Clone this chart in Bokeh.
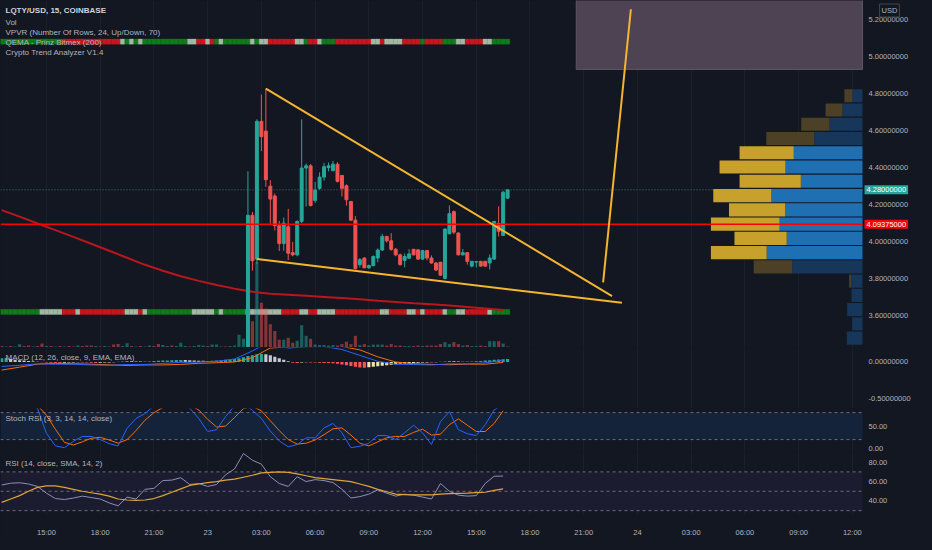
import pandas as pd
from bokeh.plotting import figure
from bokeh.models import Range1d, FixedTicker, PrintfTickFormatter, Label, BoxAnnotation, Grid
from bokeh.layouts import column
from bokeh.embed import file_html
from bokeh.resources import INLINE

# ---------------- data ----------------
first_bar = "2023-03-22 12:30"          # first 15-min bar in view
candle_first = "2023-03-23 02:15"       # first candle visible in the price range

cand_open = [3.350, 4.142, 3.905, 4.651, 4.598, 4.300, 4.247, 4.086, 3.989, 4.080,
             3.940, 3.928, 4.109, 4.398, 4.410, 4.223, 4.288, 4.349, 4.400, 4.384,
             4.419, 4.358, 4.302, 4.217, 4.116, 3.875, 3.911, 3.858, 3.870, 3.911,
             3.954, 4.028, 4.004, 3.958, 3.928, 3.898, 3.910, 3.958, 3.955, 3.905,
             3.951, 3.911, 3.884, 3.888, 3.800, 4.042, 4.162, 4.046, 3.928, 3.940,
             3.867, 3.889, 3.893, 3.893, 3.884, 3.905, 4.098, 4.033, 4.235]
cand_high = [4.380, 4.160, 4.662, 4.796, 4.828, 4.332, 4.260, 4.112, 4.130, 4.177,
             3.998, 4.115, 4.662, 4.423, 4.420, 4.323, 4.375, 4.426, 4.428, 4.437,
             4.430, 4.360, 4.310, 4.220, 4.138, 3.910, 3.915, 3.875, 3.925, 3.963,
             4.042, 4.030, 4.046, 3.965, 3.935, 3.935, 3.958, 3.960, 3.958, 3.955,
             3.955, 3.925, 3.890, 3.890, 4.070, 4.196, 4.168, 4.050, 3.960, 3.940,
             3.895, 3.895, 3.895, 3.895, 3.930, 4.112, 4.191, 4.275, 4.283]
cand_low = [3.330, 3.842, 3.880, 4.490, 4.296, 4.095, 4.060, 3.949, 3.950, 3.900,
            3.920, 3.920, 4.100, 4.190, 4.190, 4.210, 4.280, 4.330, 4.380, 4.380,
            4.320, 4.244, 4.195, 4.110, 3.849, 3.860, 3.855, 3.852, 3.865, 3.888,
            3.950, 3.995, 3.950, 3.920, 3.870, 3.860, 3.905, 3.925, 3.900, 3.900,
            3.898, 3.880, 3.840, 3.814, 3.795, 4.040, 4.040, 3.925, 3.925, 3.875,
            3.860, 3.860, 3.865, 3.865, 3.849, 3.900, 4.028, 4.030, 4.230]
cand_close = [4.142, 3.896, 4.651, 4.568, 4.335, 4.230, 4.086, 3.989, 4.100, 3.937,
              3.928, 4.109, 4.398, 4.410, 4.195, 4.279, 4.349, 4.405, 4.410, 4.419,
              4.326, 4.288, 4.226, 4.116, 3.853, 3.902, 3.858, 3.870, 3.919, 3.954,
              4.028, 4.004, 3.958, 3.928, 3.875, 3.919, 3.933, 3.928, 3.905, 3.951,
              3.911, 3.884, 3.846, 3.818, 4.068, 4.151, 4.051, 3.928, 3.940, 3.893,
              3.893, 3.891, 3.867, 3.867, 3.911, 4.109, 4.056, 4.267, 4.280]

volumes = [15, 10, 15, 10, 33, 15, 20, 10, 15, 40,
           15, 15, 10, 15, 10, 15, 10, 20, 15, 20,
           20, 15, 10, 15, 10, 30, 35, 15, 45, 15,
           10, 15, 10, 20, 15, 35, 25, 15, 20, 15,
           50, 15, 10, 15, 25, 20, 15, 30, 30, 10,
           10, 15, 20, 130, 90, 450, 270, 880, 460, 400,
           240, 170, 80, 80, 100, 50, 70, 230, 120, 90,
           30, 25, 25, 20, 25, 20, 35, 60, 35, 120,
           25, 35, 20, 30, 30, 30, 20, 35, 20, 20,
           15, 15, 15, 20, 15, 20, 20, 20, 35, 55,
           35, 55, 35, 20, 25, 15, 15, 20, 15, 65,
           65, 65, 40, 10]
early_vol_dir = "duduuddudd" "udududdudd" "dududdduud" "uduudduudu" "uuduuuduuu" "duuuu"

ema200 = [4.170, 4.135, 4.098, 4.062, 4.025, 3.988, 3.950, 3.912, 3.874, 3.842,
          3.812, 3.787, 3.765, 3.745, 3.728, 3.718, 3.712, 3.706, 3.700, 3.694,
          3.688, 3.680, 3.673, 3.666, 3.660, 3.654, 3.646, 3.638, 3.630]   # hourly

macd_hist = [0.050, 0.055, 0.040, 0.030, 0.025, 0.020, 0.015, 0.008, 0.004, -0.004,
             -0.008, -0.010, -0.012, -0.012, -0.010, -0.008, -0.006, -0.004, -0.006, -0.008,
             -0.010, -0.012, -0.010, -0.008, -0.006, -0.004, 0.004, 0.008, 0.012, 0.010,
             0.008, 0.006, 0.005, 0.008, 0.012, 0.016, 0.020, 0.022, 0.025, 0.027,
             0.028, 0.026, 0.023, 0.020, 0.018, 0.016, 0.015, 0.017, 0.020, 0.025,
             0.030, 0.035, 0.040, 0.050, 0.065, 0.080, 0.090, 0.105, 0.110, 0.105,
             0.090, 0.070, 0.050, 0.030, 0.010, -0.010, -0.012, -0.008, -0.005, -0.006,
             -0.008, -0.010, -0.012, -0.015, -0.018, -0.025, -0.035, -0.045, -0.055, -0.065,
             -0.075, -0.078, -0.072, -0.065, -0.058, -0.050, -0.043, -0.036, -0.030, -0.025,
             -0.020, -0.016, -0.012, -0.010, -0.008, -0.006, -0.007, -0.005, 0.004, 0.008,
             0.012, 0.010, 0.007, 0.005, 0.004, 0.006, 0.010, 0.015, 0.020, 0.025,
             0.030, 0.035, 0.038, 0.040]
macd_line = [-0.060, -0.045, -0.025, -0.030, -0.030, -0.040, -0.045, -0.035, -0.035, -0.020,
             -0.005, 0.000, 0.010, 0.040, 0.150, 0.280, 0.190, 0.205, 0.210, 0.170,
             0.090, 0.010, -0.030, -0.035, -0.040, -0.025, -0.025, -0.012, 0.025]      # hourly
signal_line = [-0.110, -0.070, -0.029, -0.018, -0.024, -0.030, -0.039, -0.047, -0.040, -0.040,
               -0.033, -0.018, -0.010, 0.000, 0.060, 0.190, 0.205, 0.210, 0.220, 0.210,
               0.165, 0.070, 0.000, -0.023, -0.033, -0.037, -0.029, -0.030, -0.005]    # hourly

stoch_k = [100, 100, 100, 100, 89, 34, 6, 2, 16, 27, 27, 20, 11, 6, 45, 67, 78, 95, 100, 100,
           100, 90, 67, 38, 42, 71, 95, 100, 85, 67, 39, 17, 4, 9, 24, 24, 46, 56, 35, 2,
           5, 12, 29, 29, 20, 35, 52, 35, 9, 60, 82, 42, 33, 29, 53, 86, 98]          # every 30 min
stoch_d = [100, 100, 100, 100, 96, 74, 43, 14, 8, 15, 23, 25, 19, 12, 20, 40, 63, 80, 91, 98,
           100, 97, 86, 65, 48, 50, 69, 89, 94, 84, 62, 40, 20, 10, 12, 19, 31, 44, 46, 30,
           12, 6, 15, 24, 27, 27, 36, 43, 30, 32, 53, 66, 52, 38, 38, 56, 84]
rsi = [56.5, 58.3, 58.8, 57.5, 55, 48, 42.5, 41.5, 43, 45, 43.5, 42, 38, 35, 44, 42, 52, 53, 61, 61.5,
       64, 57, 58, 55, 57, 67, 73, 89, 82, 78, 65, 58, 55, 65, 60, 62, 61, 59, 52, 43,
       44.5, 47, 51.5, 48, 45, 47, 46, 44, 42, 58, 50, 46, 45, 45.5, 58, 65.5, 65.7]
rsi_ma = [38.5, 42, 45.5, 50, 54, 55.5, 55.5, 54, 52, 50, 48.5, 47, 45, 42, 41, 40.7, 41, 42.5, 45.5, 49,
          52.5, 56, 57.5, 59, 60, 61.5, 62.5, 64.5, 66.5, 69, 69.5, 70, 69.5, 68, 66, 64, 63, 62, 61, 60,
          57.5, 55, 52, 49.5, 47, 46.5, 46.3, 46.3, 46.3, 47, 47.5, 47.8, 48, 48.5, 49, 51, 52.5]

qema_top_runs = [("G", 14), ("R", 13), ("L", 1), ("G", 1), ("L", 1), ("G", 1), ("L", 1), ("G", 10),
                 ("L", 2), ("R", 2), ("L", 1), ("R", 1), ("G", 1), ("L", 1), ("G", 6), ("L", 1),
                 ("G", 1), ("L", 2), ("R", 6), ("L", 2), ("G", 1), ("R", 2), ("L", 1), ("G", 3),
                 ("R", 8), ("L", 2), ("R", 1), ("L", 4), ("R", 4), ("G", 1), ("R", 4), ("G", 3),
                 ("L", 2), ("R", 4), ("L", 2), ("G", 4)]
qema_bottom_runs = [("G", 9), ("L", 5), ("R", 3), ("L", 1), ("R", 10), ("L", 3), ("R", 1), ("L", 1),
                    ("G", 10), ("L", 5), ("G", 1), ("L", 1), ("G", 5), ("L", 8), ("R", 4), ("L", 2),
                    ("R", 2), ("L", 4), ("R", 10), ("L", 2), ("R", 4), ("L", 2), ("R", 1), ("L", 1),
                    ("R", 4), ("L", 1), ("G", 2), ("L", 2), ("R", 5), ("L", 1), ("G", 4)]

# volume profile (24 rows from the high; visible rows only)
vp_high = 4.828
vp_step = 0.0772
vp_up = [26, 51, 84, 123, 175, 196, 157, 232, 197, 211, 193, 244, 179, 29, 28, 39, 26, 40]
vp_down = [20, 43, 72, 122, 138, 168, 156, 148, 143, 175, 133, 142, 98, 5, 0, 0, 0, 0]
vp_value_area = [0, 0, 0, 0, 1, 1, 1, 1, 1, 1, 1, 1, 0, 0, 0, 0, 0, 0]

hline_price = 4.09375
last_price = 4.28
upper_trend = (["2023-03-23 03:15", "2023-03-23 22:35"], [4.828, 3.705])
lower_trend = (["2023-03-23 02:45", "2023-03-23 23:08"], [3.905, 3.668])
target_line = (["2023-03-23 22:05", "2023-03-23 23:38"], [3.779, 5.258])
target_box = ("2023-03-23 20:35", 4.932, 5.45)

price_ticks = [3.6, 3.8, 4.0, 4.2, 4.4, 4.6, 4.8, 5.0, 5.2]
time_ticks = ["2023-03-22 15:00", "2023-03-22 18:00", "2023-03-22 21:00", "2023-03-23 00:00",
              "2023-03-23 03:00", "2023-03-23 06:00", "2023-03-23 09:00", "2023-03-23 12:00",
              "2023-03-23 15:00", "2023-03-23 18:00", "2023-03-23 21:00", "2023-03-24 00:00",
              "2023-03-24 03:00", "2023-03-24 06:00", "2023-03-24 09:00", "2023-03-24 12:00"]
time_labels = ["15:00", "18:00", "21:00", "23", "03:00", "06:00", "09:00", "12:00",
               "15:00", "18:00", "21:00", "24", "03:00", "06:00", "09:00", "12:00"]
view_start, view_end = "2023-03-22 12:26", "2023-03-24 12:34"

# ---------------- helpers ----------------
def ms(s):
    return pd.Timestamp(s).value / 1e6

def ms_list(idx):
    return [t.value / 1e6 for t in idx]

BG = "#131722"
GRID = "#1b1f2b"
TXT = "#b2b5be"
FONT = "Liberation Sans"
UP, DN = "#26a69a", "#ef5350"
Q15 = 15 * 60 * 1000

bar_t = ms_list(pd.date_range(first_bar, periods=len(volumes), freq="15min"))
cand_t = ms_list(pd.date_range(candle_first, periods=len(cand_open), freq="15min"))
hour_t = ms_list(pd.date_range(first_bar, periods=len(ema200), freq="60min"))
half_t = ms_list(pd.date_range(first_bar, periods=len(stoch_k), freq="30min"))

FW = 916          # whole width: chart area + price-scale area
CW = 862          # chart area width
x0 = ms(view_start)
chart_end = ms(view_end)
x_full_end = x0 + (chart_end - x0) * FW / CW
xr = Range1d(x0, x_full_end)
xticker = FixedTicker(ticks=[ms(t) for t in time_ticks])


def make_fig(frame_h, yr, bottom=False):
    p = figure(frame_width=FW, frame_height=frame_h, x_range=xr, y_range=yr,
               output_backend="svg", toolbar_location=None, y_axis_location="right",
               x_axis_location="below" if bottom else None,
               background_fill_color=BG, border_fill_color=BG, outline_line_color=None,
               min_border=0, min_border_bottom=19 if bottom else 0)
    p.extra_y_ranges = {"ovl": Range1d(0, 1)}
    p.grid.visible = False
    p.add_layout(Grid(dimension=0, ticker=xticker, grid_line_color=GRID))
    ax = p.yaxis[0]
    ax.axis_line_color = None
    ax.major_tick_line_color = None
    ax.minor_tick_line_color = None
    ax.major_tick_out = 0
    ax.major_tick_in = 0
    ax.major_label_text_color = TXT
    ax.major_label_text_font_size = "7.5px"
    ax.major_label_text_font = FONT
    ax.major_label_standoff = -(FW - CW - 6)     # labels drawn inside the price-scale strip
    if bottom:
        xa = p.xaxis[0]
        xa.ticker = xticker
        xa.major_label_overrides = {ms(t): lab for t, lab in zip(time_ticks, time_labels)}
        xa.axis_line_color = None
        xa.major_tick_line_color = None
        xa.minor_tick_line_color = None
        xa.major_label_text_color = TXT
        xa.major_label_text_font_size = "7.5px"
        xa.major_label_text_font = FONT
        xa.major_label_standoff = 6
    return p


def pane_label(p, text, dy, color=TXT, bold=False):
    p.add_layout(Label(x=x0, y=1, y_range_name="ovl", x_offset=5, y_offset=-dy, text=text,
                       text_color=color, text_font_size="8px", text_font=FONT,
                       text_font_style="bold" if bold else "normal", text_baseline="middle"))


def hline(p, level, **kw):
    p.segment(x0=[x0], x1=[chart_end], y0=[level], y1=[level], **kw)


def price_tag(p, price, bg, text_color="#ffffff"):
    p.add_layout(Label(x=chart_end, y=price, x_offset=2, text=f"{price:.8f}", text_color=text_color,
                       text_font_size="7.5px", text_font=FONT, text_baseline="middle",
                       background_fill_color=bg, padding=2))


# ---------------- main price pane ----------------
pm = make_fig(347, Range1d(3.4263, 5.3053))
pm.extra_y_ranges["vol"] = Range1d(0, 3570)
vp_per_px = 2.5 * 878 / CW
pm.extra_x_ranges = {"vp": Range1d(CW * vp_per_px, -(FW - CW) * vp_per_px)}
pm.yaxis[0].ticker = FixedTicker(ticks=price_ticks)
pm.yaxis[0].formatter = PrintfTickFormatter(format="%.8f")

# last price dotted line (under everything else)
hline(pm, last_price, line_color="#3f7473", line_dash="1 2", line_width=1)

# target box
pm.quad(left=[ms(target_box[0])], right=[chart_end], bottom=[target_box[1]], top=[target_box[2]],
        fill_color="#4e4352", line_color="#5d5462", line_width=1)

# QEMA strips
STRIP = {"G": "#0f7b1b", "R": "#c9161d", "L": "#a3b9a4"}
for runs, (b, t) in ((qema_top_runs, (0.874, 0.889)), (qema_bottom_runs, (0.095, 0.110))):
    codes = "".join(c * n for c, n in runs)
    cols = [STRIP[c] for c in codes]
    pm.quad(left=[x - Q15 / 2 for x in bar_t[:len(codes)]], right=[x + Q15 / 2 for x in bar_t[:len(codes)]],
            bottom=b, top=t, y_range_name="ovl", fill_color=cols, line_color=cols, line_width=0.3)

# volume
cand_dir = ["u" if c >= o else "d" for o, c in zip(cand_open, cand_close)]
vol_dir = list(early_vol_dir) + cand_dir
vol_cols = [UP if d == "u" else DN for d in vol_dir]
pm.vbar(x=bar_t, width=Q15 * 0.7, top=volumes, bottom=0, y_range_name="vol",
        fill_color=vol_cols, line_color=None, fill_alpha=0.5)

# EMA 200
pm.line(hour_t, ema200, line_color="#b9161d", line_width=2)

# candles
c_cols = [UP if d == "u" else DN for d in cand_dir]
pm.segment(x0=cand_t, y0=cand_low, x1=cand_t, y1=cand_high, line_color=c_cols, line_width=1)
pm.vbar(x=cand_t, width=Q15 * 0.66, top=[max(o, c) for o, c in zip(cand_open, cand_close)],
        bottom=[min(o, c) for o, c in zip(cand_open, cand_close)], fill_color=c_cols, line_color=c_cols)

# volume profile
vp_center = [vp_high - vp_step * (k + 0.5) for k in range(len(vp_up))]
up_cols = ["#1f6fb3" if v else "#17375a" for v in vp_value_area]
dn_cols = ["#c8a02c" if v else "#4c4126" for v in vp_value_area]
pm.hbar(y=vp_center, height=vp_step * 0.92, left=0, right=vp_up, x_range_name="vp",
        fill_color=up_cols, line_color=None)
pm.hbar(y=vp_center, height=vp_step * 0.92, left=vp_up, right=[u + d for u, d in zip(vp_up, vp_down)],
        x_range_name="vp", fill_color=dn_cols, line_color=None)

# horizontal red line
hline(pm, hline_price, line_color="#ff0000", line_width=1.5)

# trend lines
for ts, ps in (upper_trend, lower_trend, target_line):
    pm.line([ms(t) for t in ts], ps, line_color="#f5b52e", line_width=2)

# price tags and currency
price_tag(pm, last_price, "#26a69a")
price_tag(pm, hline_price, "#ff0000")
pm.add_layout(Label(x=chart_end, y=1, y_range_name="ovl", x_offset=27, y_offset=-10, text="USD",
                    text_color=TXT, text_font_size="7.5px", text_font=FONT, text_baseline="middle",
                    text_align="center", border_line_color="#434651", background_fill_color=BG, padding=2))

pane_label(pm, "LQTY/USD, 15, COINBASE", 10.4, color="#d1d4dc", bold=True)
pane_label(pm, "Vol", 22)
pane_label(pm, "VPVR (Number Of Rows, 24, Up/Down, 70)", 32.4)
pane_label(pm, "QEMA - Prinz Bitmex (200)", 42)
pane_label(pm, "Crypto Trend Analyzer V1.4", 52.4)

# ---------------- MACD pane ----------------
pmacd = make_fig(61, Range1d(-0.632, 0.197))
pmacd.yaxis[0].ticker = FixedTicker(ticks=[0.0, -0.5])
pmacd.yaxis[0].formatter = PrintfTickFormatter(format="%.8f")
h_cols = []
prev = 0.0
for h in macd_hist:
    if h >= 0:
        h_cols.append("#26a69a" if h >= prev else "#c5c8cc")
    else:
        h_cols.append("#ff5252" if h <= prev else "#efe2a2")
    prev = h
pmacd.vbar(x=bar_t, width=Q15 * 0.7, top=macd_hist, bottom=0, fill_color=h_cols, line_color=None)
pmacd.line(hour_t, signal_line, line_color="#ff6d00", line_width=1)
pmacd.line(hour_t, macd_line, line_color="#2962ff", line_width=1)
pane_label(pmacd, "MACD (12, 26, close, 9, EMA, EMA)", 9.7)

# ---------------- Stoch RSI pane ----------------
pst = make_fig(44, Range1d(-8.7, 89.1))
pst.yaxis[0].ticker = FixedTicker(ticks=[0, 50])
pst.yaxis[0].formatter = PrintfTickFormatter(format="%.2f")
pst.add_layout(BoxAnnotation(bottom=20, top=80, right=chart_end, fill_color="#142339", fill_alpha=1,
                             line_color=None, level="underlay"))
for lv in (20, 80):
    hline(pst, lv, line_color="#6a6d78", line_dash="3 3", line_width=1)
pst.line(half_t, stoch_d, line_color="#ff6d00", line_width=1)
pst.line(half_t, stoch_k, line_color="#2962ff", line_width=1)
pane_label(pst, "Stoch RSI (3, 3, 14, 14, close)", 9.5)

# ---------------- RSI pane ----------------
prsi = make_fig(63, Range1d(25, 90), bottom=True)
prsi.yaxis[0].ticker = FixedTicker(ticks=[40, 60, 80])
prsi.yaxis[0].formatter = PrintfTickFormatter(format="%.2f")
prsi.add_layout(BoxAnnotation(bottom=30, top=70, right=chart_end, fill_color="#1c1c31", fill_alpha=1,
                              line_color=None, level="underlay"))
for lv in (30, 50, 70):
    hline(prsi, lv, line_color="#6a6d78", line_dash="3 3", line_width=1)
prsi.line(half_t, rsi, line_color="#8c8fb8", line_width=1)
prsi.line(half_t, rsi_ma, line_color="#e3a335", line_width=1.2)
pane_label(prsi, "RSI (14, close, SMA, 14, 2)", 10.7)

layout = column(pm, pmacd, pst, prsi, spacing=0, background=BG)

html = file_html(layout, INLINE, title="LQTY/USD")
html = html.replace("<head>", "<head><style>html,body{background:#131722;}</style>", 1)
open("out.html", "w").write(html)
